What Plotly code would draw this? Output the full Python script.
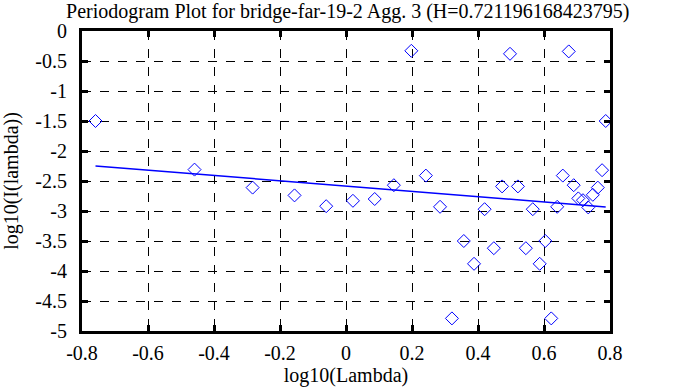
import plotly.graph_objects as go

# Data
log_lambda = [-0.759, -0.459, -0.283, -0.156, -0.060, 0.021, 0.087, 0.145, 0.198, 0.242,
              0.285, 0.321, 0.357, 0.388, 0.420, 0.448, 0.473, 0.497, 0.521, 0.545,
              0.566, 0.587, 0.604, 0.622, 0.640, 0.657, 0.675, 0.690, 0.704, 0.718,
              0.734, 0.748, 0.763, 0.776, 0.787]
log_I = [-1.50, -2.31, -2.61, -2.74, -2.92, -2.83, -2.80, -2.57, -0.33, -2.41,
         -2.93, -4.79, -3.50, -3.88, -2.97, -3.62, -2.59, -0.38, -2.59, -3.62,
         -2.97, -3.88, -3.50, -4.79, -2.93, -2.41, -0.34, -2.57, -2.79, -2.82,
         -2.94, -2.73, -2.61, -2.32, -1.50]

H = 0.721196168423795
slope = 1 - 2 * H
intercept = -2.584

x_ticks = [-0.8, -0.6, -0.4, -0.2, 0, 0.2, 0.4, 0.6, 0.8]
x_ticktext = ["-0.8", "-0.6", "-0.4", "-0.2", "0", "0.2", "0.4", "0.6", "0.8"]
y_ticks = [0, -0.5, -1, -1.5, -2, -2.5, -3, -3.5, -4, -4.5, -5]
y_ticktext = ["0", "-0.5", "-1", "-1.5", "-2", "-2.5", "-3", "-3.5", "-4", "-4.5", "-5"]

fit_x = [min(log_lambda), max(log_lambda)]
fit_y = [intercept + slope * v for v in fit_x]

fig = go.Figure()
fig.add_trace(go.Scatter(
    x=log_lambda, y=log_I, mode="markers",
    marker=dict(symbol="diamond-open", size=10, color="#0000ff", line=dict(width=1, color="#0000ff")),
    cliponaxis=False, showlegend=False))
fig.add_trace(go.Scatter(
    x=fit_x, y=fit_y, mode="lines",
    line=dict(color="#0000ff", width=1.5), showlegend=False))

font = dict(family="Liberation Serif, Times New Roman, serif", size=20, color="black")

axis_common = dict(
    showline=True, linecolor="black", linewidth=3, mirror="ticks",
    ticks="inside", ticklen=6, tickwidth=3, tickcolor="black",
    showgrid=True, gridcolor="black", griddash="dash", gridwidth=1,
    zeroline=False, tickfont=font, automargin=False)

fig.update_xaxes(range=[-0.8, 0.8], tickvals=x_ticks, ticktext=x_ticktext,
                 ticklabelstandoff=2,
                 title=dict(text="log10(Lambda)", font=font, standoff=2), **axis_common)
fig.update_yaxes(range=[-5, 0], tickvals=y_ticks, ticktext=y_ticktext,
                 ticklabelstandoff=8,
                 title=dict(text="log10(I(lambda))", font=font, standoff=14), **axis_common)

fig.update_layout(
    width=678, height=387,
    margin=dict(l=82, r=68, t=31, b=56),
    paper_bgcolor="white", plot_bgcolor="white",
    font=font,
    title=dict(text="Periodogram Plot for bridge-far-19-2 Agg. 3 (H=0.721196168423795)",
               x=0.513, xanchor="center", y=0.989, yanchor="top", font=font),
)

fig.write_html("out.html", config={"displayModeBar": False},
               post_script="document.body.style.margin='0px';")
